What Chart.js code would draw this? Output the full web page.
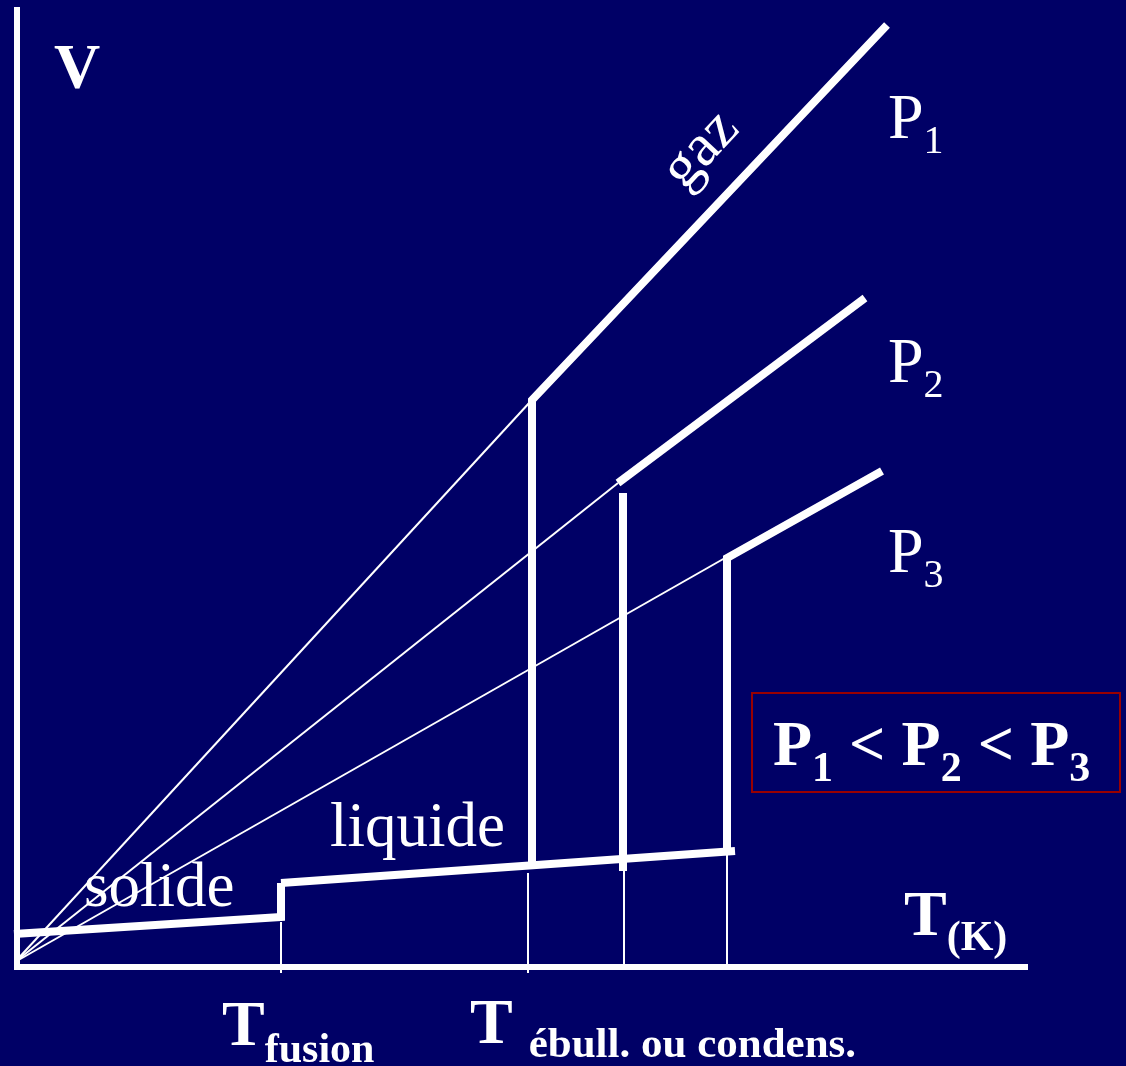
<!DOCTYPE html>
<html>
<head>
<meta charset="utf-8">
<title>V = f(T) - changements d'état</title>
<script src="https://cdn.jsdelivr.net/npm/chart.js@4.4.0/dist/chart.umd.min.js"></script>
<style>
    html, body { margin: 0; padding: 0; background: #000066; }
    #wrap { width: 1126px; height: 1066px; position: relative; }
</style>
</head>
<body>
<div id="wrap"><canvas id="etatChart"></canvas></div>
<script>
// Schematic V(T) diagram (arbitrary units)
const axeT = [{x: -3, y: 0}, {x: 1011, y: 0}];
const axeV = [{x: 0, y: -2}, {x: 0, y: 960}];

// solid phase then step at T fusion
const solide = [{x: -3, y: 33}, {x: 264, y: 50}, {x: 264, y: 84}];
const liquide = [{x: 264, y: 84}, {x: 718, y: 116}];

// vaporisation plateau + gas line for each pressure
const paliersP1 = [{x: 515, y: 102}, {x: 515, y: 567}, {x: 870, y: 942}];
const paliersP2 = [{x: 606, y: 96}, {x: 606, y: 474}];
const gazP2 = [{x: 601, y: 484}, {x: 848, y: 669}];
const paliersP3 = [{x: 710, y: 116}, {x: 710, y: 409}, {x: 865, y: 496}];

// thin extrapolation of the gas lines to the origin
const extrapP1 = [{x: -2, y: 5}, {x: 513, y: 565}];
const extrapP2 = [{x: -2, y: 5}, {x: 601, y: 484}];
const extrapP3 = [{x: -2, y: 5}, {x: 708, y: 409}];

// thin reference lines down to the T axis
const repereFusion = [{x: 264, y: 45}, {x: 264, y: -6}];
const repereP1 = [{x: 511, y: 94}, {x: 511, y: -6}];
const repereP2 = [{x: 607, y: 96}, {x: 607, y: 0}];
const repereP3 = [{x: 710, y: 113}, {x: 710, y: 0}];

const SERIF = '"Liberation Serif", "Times New Roman", serif';

function line(data, width) {
    return {
        data: data,
        showLine: true,
        borderColor: '#ffffff',
        borderWidth: width,
        pointRadius: 0,
        borderCapStyle: 'butt',
        borderJoinStyle: 'miter',
        clip: false
    };
}

// draw a sequence of text runs (for subscripts)
function drawRuns(ctx, x, y, runs) {
    runs.forEach(r => {
        ctx.font = r.font;
        ctx.fillText(r.text, x, y + (r.dy || 0));
        x += ctx.measureText(r.text).width;
    });
}

const labelsPlugin = {
    id: 'labels',
    afterDatasetsDraw(chart) {
        const ctx = chart.ctx;
        const sx = chart.scales.x, sy = chart.scales.y;
        const px = v => sx.getPixelForValue(v);
        const py = v => sy.getPixelForValue(v);
        const big = 'bold 64px ' + SERIF;
        const sub = 'bold 42px ' + SERIF;
        const reg = '64px ' + SERIF;
        const regSub = '40px ' + SERIF;

        ctx.save();
        ctx.fillStyle = '#ffffff';
        ctx.textBaseline = 'alphabetic';
        ctx.textAlign = 'left';

        drawRuns(ctx, px(37), py(879), [{text: 'V', font: 'bold 64px ' + SERIF}]);

        drawRuns(ctx, px(871), py(829), [{text: 'P', font: reg}, {text: '1', font: regSub, dy: 15}]);
        drawRuns(ctx, px(871), py(585), [{text: 'P', font: reg}, {text: '2', font: regSub, dy: 15}]);
        drawRuns(ctx, px(871), py(395), [{text: 'P', font: reg}, {text: '3', font: regSub, dy: 15}]);

        drawRuns(ctx, px(67), py(61), [{text: 'solide', font: '63px ' + SERIF}]);
        drawRuns(ctx, px(313), py(121), [{text: 'liquide', font: '63px ' + SERIF}]);

        drawRuns(ctx, px(887), py(32), [{text: 'T', font: big}, {text: '(K)', font: sub, dy: 15}]);
        drawRuns(ctx, px(205), py(-78), [{text: 'T', font: big}, {text: 'fusion', font: sub, dy: 17}]);
        drawRuns(ctx, px(453), py(-76), [{text: 'T ', font: big}, {text: 'ébull. ou condens.', font: 'bold 43px ' + SERIF, dy: 14}]);

        // rotated "gaz" along the P1 gas line
        ctx.save();
        ctx.translate(px(684), py(817));
        ctx.rotate(-47 * Math.PI / 180);
        ctx.textAlign = 'center';
        ctx.textBaseline = 'middle';
        ctx.font = '60px ' + SERIF;
        ctx.fillText('gaz', 0, 0);
        ctx.restore();

        // boxed inequality
        ctx.strokeStyle = '#990000';
        ctx.lineWidth = 2;
        ctx.strokeRect(px(735), py(274), px(1103) - px(735), py(175) - py(274));
        drawRuns(ctx, px(756), py(202), [
            {text: 'P', font: big}, {text: '1', font: sub, dy: 16},
            {text: ' < ', font: big},
            {text: 'P', font: big}, {text: '2', font: sub, dy: 16},
            {text: ' < ', font: big},
            {text: 'P', font: big}, {text: '3', font: sub, dy: 16}
        ]);
        ctx.restore();
    }
};

const bgPlugin = {
    id: 'bg',
    beforeDraw(chart) {
        const ctx = chart.ctx;
        ctx.save();
        ctx.fillStyle = '#000066';
        ctx.fillRect(0, 0, chart.width, chart.height);
        ctx.restore();
    }
};

new Chart(document.getElementById('etatChart'), {
    type: 'scatter',
    data: {
        datasets: [
            line(extrapP1, 2), line(extrapP2, 2), line(extrapP3, 2),
            line(repereFusion, 2), line(repereP1, 2), line(repereP2, 2), line(repereP3, 2),
            line(axeT, 6), line(axeV, 6),
            line(solide, 8), line(liquide, 8),
            line(paliersP1, 8), line(paliersP2, 8), line(gazP2, 8), line(paliersP3, 8)
        ]
    },
    options: {
        responsive: true,
        maintainAspectRatio: false,
        animation: false,
        devicePixelRatio: 1,
        layout: {
            padding: {left: 17, right: 98, top: 7, bottom: 99}
        },
        plugins: {
            legend: {display: false},
            tooltip: {enabled: false}
        },
        scales: {
            x: {type: 'linear', min: 0, max: 1011, display: false},
            y: {type: 'linear', min: 0, max: 960, display: false}
        }
    },
    plugins: [bgPlugin, labelsPlugin]
});
</script>
</body>
</html>
